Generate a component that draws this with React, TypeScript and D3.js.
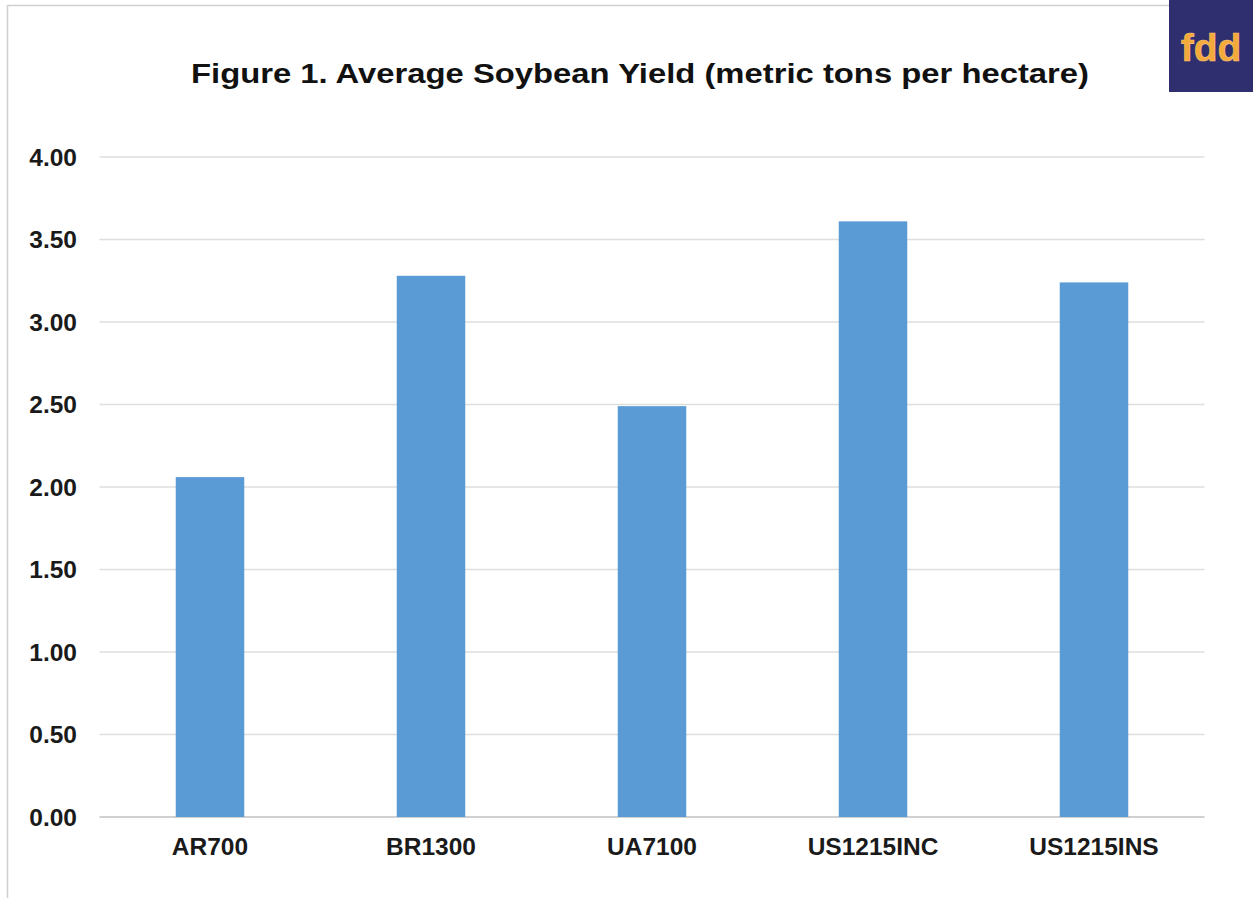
import React from "react";
import * as d3 from "d3";

const categories = ["AR700", "BR1300", "UA7100", "US1215INC", "US1215INS"];
const yields = [2.06, 3.28, 2.49, 3.61, 3.24];
const yTicks = [0, 0.5, 1, 1.5, 2, 2.5, 3, 3.5, 4];

const W = 1253;
const H = 907;
const plot = { left: 99.5, right: 1204.5, top: 157, bottom: 817 };

export default function App() {
  const x = d3
    .scaleBand<string>()
    .domain(categories)
    .range([plot.left, plot.right])
    .paddingInner(0.69)
    .paddingOuter(0.345);
  const y = d3.scaleLinear().domain([0, 4]).range([plot.bottom, plot.top]);
  const fmt = d3.format(".2f");
  const font = "'Liberation Sans', Arial, sans-serif";

  return (
    <svg
      width={W}
      height={H}
      style={{ position: "absolute", left: 0, top: 0, background: "#fff" }}
    >
      <rect x={0} y={0} width={W} height={H} fill="#fff" />
      {/* frame */}
      <line x1={7.5} y1={5} x2={7.5} y2={898} stroke="#d0d0d0" strokeWidth={1.5} />
      <line x1={7.5} y1={5.5} x2={W} y2={5.5} stroke="#d0d0d0" strokeWidth={1.5} />

      {/* logo */}
      <rect x={1169} y={0} width={W - 1169} height={92} fill="#2f2e6e" />
      <text
        x={1211}
        y={61}
        textAnchor="middle"
        fontFamily={font}
        fontWeight="bold"
        fontSize={39}
        fill="#f4a93b"
        stroke="#f8c27a"
        strokeWidth={0.6}
      >
        fdd
      </text>

      {/* title */}
      <text
        x={640}
        y={83}
        textAnchor="middle"
        fontFamily={font}
        fontWeight="bold"
        fontSize={28}
        textLength={898}
        lengthAdjust="spacingAndGlyphs"
        fill="#111"
      >
        Figure 1. Average Soybean Yield (metric tons per hectare)
      </text>

      {/* gridlines */}
      {yTicks.map((t) => (
        <line
          key={t}
          x1={plot.left}
          x2={plot.right}
          y1={y(t)}
          y2={y(t)}
          stroke={t === 0 ? "#d0d0d0" : "#dedede"}
          strokeWidth={t === 0 ? 2 : 1.5}
        />
      ))}
      {yTicks.map((t) => (
        <text
          key={"l" + t}
          x={77}
          y={y(t)}
          dy="0.36em"
          textAnchor="end"
          fontFamily={font}
          fontWeight="bold"
          fontSize={24.5}
          fill="#1a1a1a"
        >
          {fmt(t)}
        </text>
      ))}

      {/* bars */}
      {categories.map((c, i) => (
        <rect
          key={c}
          x={x(c)}
          y={y(yields[i])}
          width={x.bandwidth()}
          height={y(0) - y(yields[i])}
          fill="#5b9bd5"
        />
      ))}

      {/* category labels */}
      {categories.map((c) => (
        <text
          key={"c" + c}
          x={(x(c) as number) + x.bandwidth() / 2}
          y={855}
          textAnchor="middle"
          fontFamily={font}
          fontWeight="bold"
          fontSize={24.5}
          fill="#1a1a1a"
        >
          {c}
        </text>
      ))}
    </svg>
  );
}
